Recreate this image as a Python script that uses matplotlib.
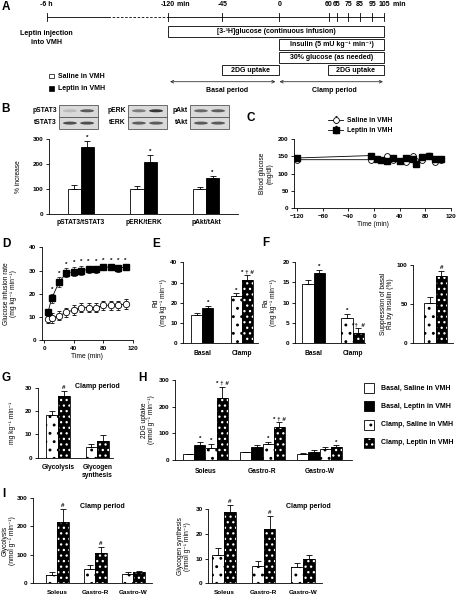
import matplotlib
matplotlib.use('Agg')
import matplotlib.pyplot as plt
from matplotlib.patches import Rectangle, FancyArrowPatch, Ellipse
import numpy as np

plt.rcParams['font.family'] = ['Liberation Sans', 'DejaVu Sans']
plt.rcParams['font.weight'] = 'bold'
plt.rcParams['axes.linewidth'] = 0.6
plt.rcParams['hatch.linewidth'] = 0.9
plt.rcParams['xtick.major.width'] = 0.6
plt.rcParams['ytick.major.width'] = 0.6
plt.rcParams['xtick.major.size'] = 2
plt.rcParams['ytick.major.size'] = 2
plt.rcParams['xtick.major.pad'] = 2
plt.rcParams['ytick.major.pad'] = 2
plt.rcParams['xtick.labelsize'] = 4.6
plt.rcParams['ytick.labelsize'] = 4.6

# ---------------- data ----------------
# A: protocol timeline
tl_labels = ['-6 h', '-120', '-45', '0', '60', '65', '75', '85', '95', '105']
tl_boxes = ['[3-\u00b3H]glucose (continuous infusion)',
            'Insulin (5 mU kg\u207b\u00b9 min\u207b\u00b9)',
            '30% glucose (as needed)', '2DG uptake', '2DG uptake']
groups = ['Saline in VMH', 'Leptin in VMH']

# B: western blots
blot_top = ['pSTAT3', 'pERK', 'pAkt']
blot_bot = ['tSTAT3', 'tERK', 'tAkt']
band_top = [[0.15, 0.62], [0.45, 0.80], [0.55, 0.60]]
band_bot = [[0.68, 0.68], [0.60, 0.62], [0.62, 0.62]]
b_cats = ['pSTAT3/tSTAT3', 'pERK/tERK', 'pAkt/tAkt']
b_saline = [100, 100, 100]
b_saline_err = [17, 10, 6]
b_leptin = [267, 207, 145]
b_leptin_err = [25, 28, 6]
b_sig = ['*', '*', '*']

# C: blood glucose
c_time = [-120, -5, 5, 10, 20, 30, 40, 50, 60, 65, 75, 85, 95, 105]
c_saline = [140, 140, 142, 140, 152, 138, 137, 133, 152, 135, 140, 150, 133, 140]
c_saline_err = [4, 4, 4, 4, 4, 4, 4, 4, 4, 4, 4, 4, 4, 4]
c_leptin = [145, 152, 143, 140, 135, 145, 137, 145, 143, 128, 149, 152, 143, 143]
c_leptin_err = [4, 5, 4, 4, 5, 5, 4, 5, 5, 6, 5, 6, 5, 5]

# D: glucose infusion rate
d_time = [5, 10, 20, 30, 40, 50, 60, 70, 80, 90, 100, 110]
d_saline = [9, 9.5, 10.5, 12, 13, 14, 14, 14, 15, 15, 15, 15.5]
d_saline_err = [1.5, 2, 2, 2, 2, 2, 2, 2, 2, 2, 2, 2]
d_leptin = [12, 18, 25, 29, 29.5, 30, 30.5, 30.5, 31.5, 31.5, 31, 31.5]
d_leptin_err = [1.5, 2, 2, 2, 2, 2, 1.5, 1.5, 1, 1, 1.5, 1]
d_sig = ['', '*', '*', '*', '*', '*', '*', '*', '*', '*', '*', '*']

# E: Rd
period_cats = ['Basal', 'Clamp']
e_saline = [14, 23.5]
e_saline_err = [1, 1.2]
e_leptin = [17.5, 31.5]
e_leptin_err = [0.8, 2]
e_sig_saline = ['', '*']
e_sig_leptin = ['*', '* \u2020 #']

# F: Ra
f_saline = [14.5, 6.2]
f_saline_err = [0.9, 1.1]
f_leptin = [17.3, 2.5]
f_leptin_err = [0.6, 1.2]
f_sig_saline = ['', '*']
f_sig_leptin = ['*', '*\u2020  #']
f_supp = [52, 86]
f_supp_err = [7, 6]
f_supp_sig = ['', '#']

# G: whole-body glycolysis / glycogen synthesis (clamp)
g_cats = ['Glycolysis', 'Glycogen\nsynthesis']
g_saline = [18.5, 4.5]
g_saline_err = [1.5, 1.5]
g_leptin = [26.5, 7]
g_leptin_err = [2, 2.8]
g_sig_leptin = ['#', '']

# H: 2DG uptake
muscles = ['Soleus', 'Gastro-R', 'Gastro-W']
h_basal_sal = [21, 29, 22]
h_basal_sal_err = [3, 2, 6]
h_basal_lep = [56, 47, 29]
h_basal_lep_err = [13, 8.5, 8]
h_clamp_sal = [46, 59, 41]
h_clamp_sal_err = [15, 10, 9]
h_clamp_lep = [234, 122, 47]
h_clamp_lep_err = [41, 19, 8]
h_sig = [['', '*', '*', '* \u2020 #'], ['', '', '*', '* \u2020 #'], ['', '', '', '*']]
legend_labels = ['Basal, Saline in VMH', 'Basal, Leptin in VMH',
                 'Clamp, Saline in VMH', 'Clamp, Leptin in VMH']

# I: muscle glycolysis / glycogen synthesis (clamp)
i_gly_sal = [30, 49, 33]
i_gly_sal_err = [11, 15, 8]
i_gly_lep = [214, 106, 38]
i_gly_lep_err = [47, 23, 7]
i_gly_sig = ['#', '#', '']
i_gs_sal = [11.5, 7.2, 6.8]
i_gs_sal_err = [2.7, 1.9, 1.6]
i_gs_lep = [29, 21.9, 9.7]
i_gs_lep_err = [2.7, 5.4, 1.8]
i_gs_sig = ['#', '#', '']

# ---------------- figure ----------------
W, H = 460, 598
fig = plt.figure(figsize=(W / 100, H / 100), dpi=100)


def add_ax(rect):
    l, t, r, b = rect
    ax = fig.add_axes([l / W, 1 - b / H, (r - l) / W, (b - t) / H])
    ax.spines['top'].set_visible(False)
    ax.spines['right'].set_visible(False)
    return ax


def ylab(ax, rect, text, xpx, fs=4.8):
    l, t, r, b = rect
    ax.set_ylabel(text, fontsize=fs, linespacing=1.15)
    ax.yaxis.label.set_va('center')
    ax.yaxis.set_label_coords((xpx - l) / (r - l), 0.5)


def bars(ax, x, vals, errs, width, style, sigs=None, fs=4.5):
    x = np.asarray(x, dtype=float)
    if style == 'white':
        ax.bar(x, vals, width, color='white', edgecolor='black', linewidth=0.6, zorder=2)
    elif style == 'black':
        ax.bar(x, vals, width, color='black', edgecolor='black', linewidth=0.6, zorder=2)
    elif style == 'wdot':
        ax.bar(x, vals, width, color='white', edgecolor='black', hatch='..', linewidth=0, zorder=2)
        ax.bar(x, vals, width, fill=False, edgecolor='black', linewidth=0.6, zorder=3)
    elif style == 'bdot':
        ax.bar(x, vals, width, color='black', edgecolor='white', hatch='...', linewidth=0, zorder=2)
        ax.bar(x, vals, width, fill=False, edgecolor='black', linewidth=0.6, zorder=3)
    eb = ax.errorbar(x, vals, yerr=[np.zeros(len(vals)), errs], fmt='none', ecolor='black',
                     elinewidth=0.6, capsize=2, capthick=0.6, zorder=4)
    for a in eb.lines[1] + eb.lines[2]:
        a.set_clip_on(False)
    if sigs is not None:
        for xi, v, e, s in zip(x, vals, errs, sigs):
            if s:
                ax.annotate(s, (xi, v + e), xytext=(0, 0.6), textcoords='offset points',
                            ha='center', va='bottom', fontsize=fs, annotation_clip=False)


def cat_axis(ax, centers, labels, pad, fs=4.8):
    ax.set_xticks(centers)
    ax.set_xticklabels(labels, fontsize=fs, linespacing=1.2)
    ax.tick_params(axis='x', length=0, pad=pad)


# overlay for diagram, letters, blots, legends
ov = fig.add_axes([0, 0, 1, 1])
ov.set_xlim(0, W)
ov.set_ylim(H, 0)
ov.axis('off')
ov.patch.set_visible(False)
ov.set_zorder(5)

# panel letters
for letter, (lx, ly) in zip('ABCDEFGHI', [(6, 7), (6, 109), (251, 118), (6, 244), (156, 244),
                                          (266, 243), (6, 378), (142, 378), (4, 494)]):
    ov.text(lx, ly, letter, fontsize=8.5, fontweight='bold', ha='center', va='center')

# ---- Panel A ----
tl_pos = [46.7, 168, 222.3, 279.3, 329, 336.7, 348.3, 360, 372.3, 384.3]
ly = 16.7
ov.plot([tl_pos[0], 108], [ly, ly], color='black', lw=0.6)
ov.plot([108, tl_pos[1]], [ly, ly], color='black', lw=0.6, ls=(0, (3, 2)))
ov.plot([tl_pos[1], tl_pos[-1]], [ly, ly], color='black', lw=0.6)
for p, lab in zip(tl_pos, tl_labels):
    ov.plot([p, p], [12.7, 20.7], color='black', lw=0.6)
    ov.text(p, 4.5, lab, fontsize=5, ha='center', va='center')
ov.text(tl_pos[1] + 7.5, 4.5, ' min', fontsize=5, ha='left', va='center')
ov.text(tl_pos[-1] + 6.5, 4.5, ' min', fontsize=5, ha='left', va='center')

box_rects = [(168, 25.5, 384.3, 36.5), (279.3, 38.5, 384.3, 49.5), (279.3, 51.5, 384.3, 62.5),
             (221.7, 65, 279.3, 75), (327.7, 65, 384.3, 75)]
for (x0, y0, x1, y1), txt in zip(box_rects, tl_boxes):
    ov.add_patch(Rectangle((x0, y0), x1 - x0, y1 - y0, facecolor='white', edgecolor='black', lw=0.6))
    ov.text((x0 + x1) / 2, (y0 + y1) / 2 + 0.3, txt, fontsize=5, ha='center', va='center')

ov.text(46.7, 33.3, 'Leptin injection', fontsize=5.1, ha='center', va='center')
ov.text(46.7, 42.3, 'into VMH', fontsize=5.1, ha='center', va='center')
for i, (g, fc) in enumerate(zip(groups, ['white', 'black'])):
    yy = 76 + i * 12.3
    ov.add_patch(Rectangle((49.3, yy - 2.2), 4.4, 4.4, facecolor=fc, edgecolor='black', lw=0.5))
    ov.text(58.5, yy, g, fontsize=5, ha='left', va='center')

for (x0, x1), txt, tx in zip([(170, 275.5), (279.5, 383)], ['Basal period', 'Clamp period'],
                             [226.7, 334.3]):
    ov.add_patch(FancyArrowPatch((x0, 81.7), (x1, 81.7), arrowstyle='<->', mutation_scale=5,
                                 lw=0.6, color='#333333', shrinkA=0, shrinkB=0))
    ov.text(tx, 90.7, txt, fontsize=5, ha='center', va='center')

# ---- Panel B blots ----
blot_x = [59, 128, 190]
bw = 39
for bx, lt, lb, bt, bb in zip(blot_x, blot_top, blot_bot, band_top, band_bot):
    for row, (lab, bands) in enumerate([(lt, bt), (lb, bb)]):
        y0 = 104.5 + row * 12.3
        ov.add_patch(Rectangle((bx, y0), bw, 12.3, facecolor='#d9d9d9', edgecolor='#555555', lw=0.6))
        for k, inten in enumerate(bands):
            g = 0.85 - 0.8 * inten
            ov.add_patch(Ellipse((bx + bw * (0.28 + 0.44 * k), y0 + 6.3), 14, 3.0,
                                 facecolor=(g, g, g), edgecolor='none'))
        ov.text(bx - 2, y0 + 6.2, lab, fontsize=4.9, ha='right', va='center')

# ---- Panel B bars ----
rB = (49, 139, 238, 213.7)
axB = add_ax(rB)
xb = np.arange(len(b_cats))
wB = 0.21
bars(axB, xb - wB / 2, b_saline, b_saline_err, wB, 'white')
bars(axB, xb + wB / 2, b_leptin, b_leptin_err, wB, 'black', b_sig)
axB.set_xlim(-0.51, 2.51)
axB.set_ylim(0, 300)
axB.set_yticks([0, 100, 200, 300])
cat_axis(axB, xb, b_cats, 3.8)
ylab(axB, rB, '% increase', 18)

# ---- Panel C ----
rC = (294, 139, 451, 208)
axC = add_ax(rC)
axC.errorbar(c_time, c_saline, yerr=c_saline_err, fmt='-o', color='black', mfc='white',
             mec='black', ms=4.2, lw=0.6, mew=0.6, elinewidth=0.5, capsize=1, zorder=3,
             label=groups[0])
axC.errorbar(c_time, c_leptin, yerr=c_leptin_err, fmt='-s', color='black', mfc='black',
             mec='black', ms=4.0, lw=0.6, elinewidth=0.5, capsize=1, zorder=4, label=groups[1])
axC.set_xlim(-125, 120)
axC.set_ylim(0, 200)
axC.set_xticks([-120, -80, -40, 0, 40, 80, 120])
axC.set_yticks([0, 50, 100, 150, 200])
axC.set_xlabel('Time (min)', fontsize=4.8, labelpad=1.5)
ylab(axC, rC, 'Blood glucose\n(mg/dl)', 266)
axC.legend(loc='upper left', bbox_to_anchor=(0.2, 1.36), frameon=False, fontsize=4.9,
           handlelength=2.2, handletextpad=0.6, labelspacing=0.45, borderaxespad=0)

# ---- Panel D ----
rD = (41.7, 247.4, 133, 340)
axD = add_ax(rD)
axD.errorbar(d_time, d_saline, yerr=d_saline_err, fmt='-o', color='black', mfc='white',
             mec='black', ms=4.6, mew=0.6, lw=0.6, elinewidth=0.5, capsize=1.5, capthick=0.5, zorder=3)
axD.errorbar(d_time, d_leptin, yerr=d_leptin_err, fmt='-s', color='black', mfc='black',
             ms=4.4, lw=0.6, elinewidth=0.5, capsize=1.5, capthick=0.5, zorder=4)
for t, v, e, s in zip(d_time, d_leptin, d_leptin_err, d_sig):
    if s:
        axD.annotate(s, (t, v + e), xytext=(0, 1.2), textcoords='offset points', ha='center',
                     va='bottom', fontsize=4.5, annotation_clip=False)
axD.set_xlim(-3.5, 120)
axD.set_ylim(0, 40)
axD.set_xticks([0, 40, 80, 120])
axD.set_yticks([0, 10, 20, 30, 40])
axD.set_xlabel('Time (min)', fontsize=4.8, labelpad=1.5)
ylab(axD, rD, 'Glucose infusion rate\n(mg kg\u207b\u00b9 min\u207b\u00b9)', 10)

# ---- Panel E ----
rE = (183, 262.3, 258, 343.3)
axE = add_ax(rE)
xe = np.arange(2)
wE = 0.28
bars(axE, [xe[0] - wE / 2], [e_saline[0]], [e_saline_err[0]], wE, 'white', [e_sig_saline[0]])
bars(axE, [xe[0] + wE / 2], [e_leptin[0]], [e_leptin_err[0]], wE, 'black', [e_sig_leptin[0]])
bars(axE, [xe[1] - wE / 2], [e_saline[1]], [e_saline_err[1]], wE, 'wdot', [e_sig_saline[1]])
bars(axE, [xe[1] + wE / 2], [e_leptin[1]], [e_leptin_err[1]], wE, 'bdot', [e_sig_leptin[1]])
axE.set_xlim(-0.49, 1.41)
axE.set_ylim(0, 40)
axE.set_yticks([0, 10, 20, 30, 40])
cat_axis(axE, xe, period_cats, 4.8)
ylab(axE, rE, 'Rd\n(mg kg\u207b\u00b9 min\u207b\u00b9)', 160)

# ---- Panel F (Ra) ----
rF = (295, 261.7, 365, 343.3)
axF = add_ax(rF)
wF = 0.29
bars(axF, [xe[0] - wF / 2], [f_saline[0]], [f_saline_err[0]], wF, 'white', [f_sig_saline[0]])
bars(axF, [xe[0] + wF / 2], [f_leptin[0]], [f_leptin_err[0]], wF, 'black', [f_sig_leptin[0]])
bars(axF, [xe[1] - wF / 2], [f_saline[1]], [f_saline_err[1]], wF, 'wdot', [f_sig_saline[1]])
bars(axF, [xe[1] + wF / 2], [f_leptin[1]], [f_leptin_err[1]], wF, 'bdot', [f_sig_leptin[1]])
axF.set_xlim(-0.48, 1.32)
axF.set_ylim(0, 20)
axF.set_yticks([0, 5, 10, 15, 20])
cat_axis(axF, xe, period_cats, 4.8)
ylab(axF, rF, 'Ra\n(mg kg\u207b\u00b9 min\u207b\u00b9)', 270)

# ---- Panel F (suppression) ----
rF2 = (413, 265, 453, 343.3)
axF2 = add_ax(rF2)
bars(axF2, [-wF / 2], [f_supp[0]], [f_supp_err[0]], wF, 'wdot', [f_supp_sig[0]])
bars(axF2, [wF / 2], [f_supp[1]], [f_supp_err[1]], wF, 'bdot', [f_supp_sig[1]])
axF2.set_xlim(-0.58, 0.44)
axF2.set_ylim(0, 100)
axF2.set_yticks([0, 50, 100])
axF2.set_xticks([])
ylab(axF2, rF2, 'Suppression of basal\nRa by insulin (%)', 387)

# ---- Panel G ----
rG = (37.7, 387.7, 113, 457.7)
axG = add_ax(rG)
xg = np.arange(2)
wG = 0.3
bars(axG, xg - wG / 2, g_saline, g_saline_err, wG, 'wdot')
bars(axG, xg + wG / 2, g_leptin, g_leptin_err, wG, 'bdot', g_sig_leptin)
axG.set_xlim(-0.52, 1.4)
axG.set_ylim(0, 30)
axG.set_yticks([0, 10, 20, 30])
cat_axis(axG, xg, g_cats, 4.3)
ylab(axG, rG, 'mg kg\u207b\u00b9 min\u207b\u00b9', 13)
ov.text(97, 387, 'Clamp period', fontsize=5, ha='center', va='center')

# ---- Panel H ----
rH = (175, 380, 352, 460)
axH = add_ax(rH)
xh = np.arange(3)
wH = 0.195
series_h = [(h_basal_sal, h_basal_sal_err, 'white'), (h_basal_lep, h_basal_lep_err, 'black'),
            (h_clamp_sal, h_clamp_sal_err, 'wdot'), (h_clamp_lep, h_clamp_lep_err, 'bdot')]
for k, (v, e, st) in enumerate(series_h):
    bars(axH, xh + (k - 1.5) * wH, v, e, wH, st, [h_sig[m][k] for m in range(3)])
axH.set_xlim(-0.535, 2.57)
axH.set_ylim(0, 300)
axH.set_yticks([0, 100, 200, 300])
cat_axis(axH, xh, muscles, 5.5)
ylab(axH, rH, '2DG uptake\n(nmol g\u207b\u00b9 min\u207b\u00b9)', 148)

# H legend
for k, (lab, st) in enumerate(zip(legend_labels, ['white', 'black', 'wdot', 'bdot'])):
    yy = 388 + k * 18.3
    fc = 'black' if st in ('black', 'bdot') else 'white'
    if st == 'wdot':
        ov.add_patch(Rectangle((364, yy - 5), 10.5, 10, facecolor='white', edgecolor='black',
                               hatch='..', lw=0))
    elif st == 'bdot':
        ov.add_patch(Rectangle((364, yy - 5), 10.5, 10, facecolor='black', edgecolor='white',
                               hatch='...', lw=0))
    ov.add_patch(Rectangle((364, yy - 5), 10.5, 10, facecolor=fc if st in ('white', 'black') else 'none',
                           edgecolor='black', lw=0.6))
    ov.text(381, yy, lab, fontsize=5, ha='left', va='center')

# ---- Panel I (glycolysis) ----
rI1 = (33, 498, 152, 583.3)
axI1 = add_ax(rI1)
xi = np.arange(3)
wI = 0.3
bars(axI1, xi - wI / 2, i_gly_sal, i_gly_sal_err, wI, 'wdot')
bars(axI1, xi + wI / 2, i_gly_lep, i_gly_lep_err, wI, 'bdot', i_gly_sig)
axI1.set_xlim(-0.64, 2.49)
axI1.set_ylim(0, 300)
axI1.set_yticks([0, 100, 200, 300])
cat_axis(axI1, xi, muscles, 4.6, fs=4.6)
ylab(axI1, rI1, 'Glycolysis\n(nmol g\u207b\u00b9 min\u207b\u00b9)', 9)
ov.text(102.7, 506, 'Clamp period', fontsize=5, ha='center', va='center')

# ---- Panel I (glycogen synthesis) ----
rI2 = (208, 509.3, 322, 583.3)
axI2 = add_ax(rI2)
bars(axI2, xi - wI / 2, i_gs_sal, i_gs_sal_err, wI, 'wdot')
bars(axI2, xi + wI / 2, i_gs_lep, i_gs_lep_err, wI, 'bdot', i_gs_sig)
axI2.set_xlim(-0.41, 2.48)
axI2.set_ylim(0, 30)
axI2.set_yticks([0, 10, 20, 30])
cat_axis(axI2, xi, muscles, 4.6, fs=4.6)
ylab(axI2, rI2, 'Glycogen synthesis\n(nmol g\u207b\u00b9 min\u207b\u00b9)', 184)
ov.text(308, 506.7, 'Clamp period', fontsize=5, ha='center', va='center')

fig.savefig('out.png', dpi=100)
